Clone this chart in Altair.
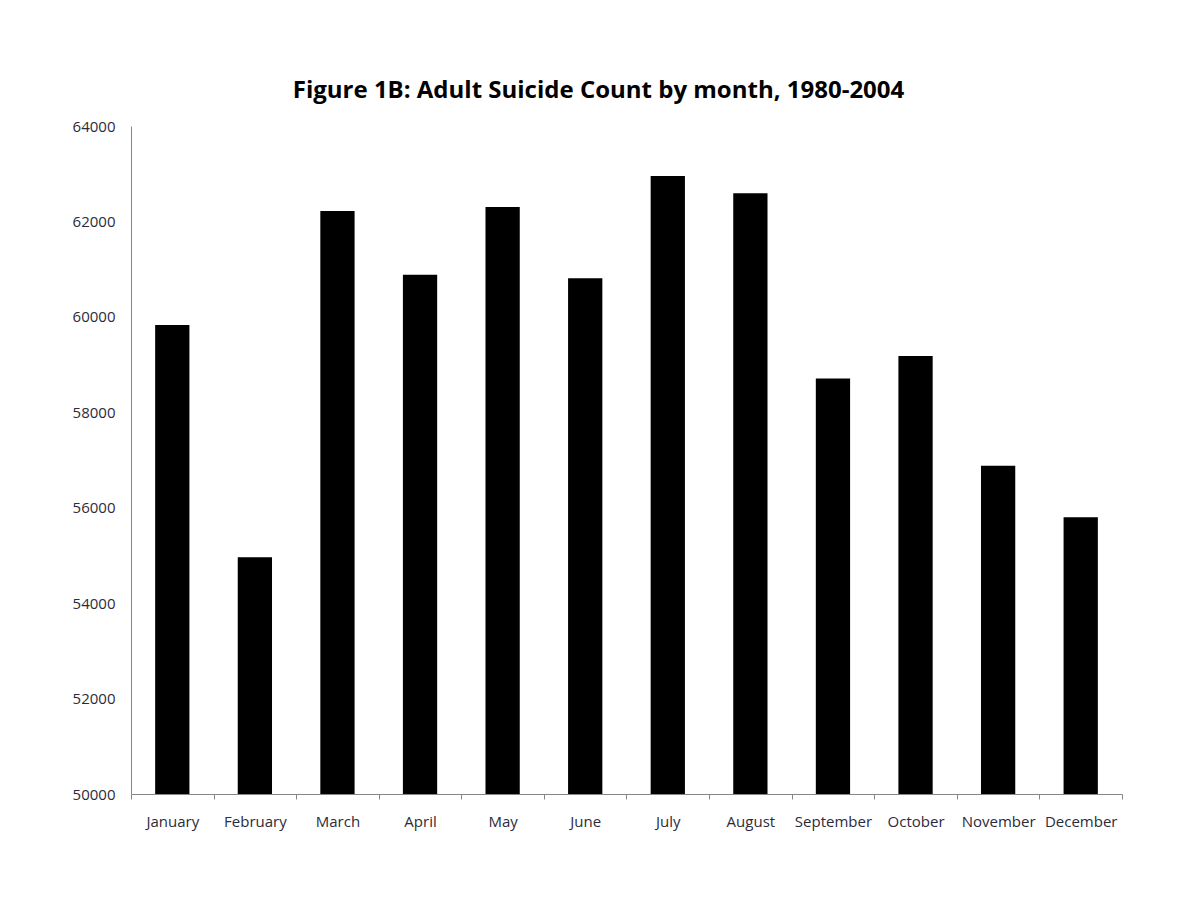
import altair as alt
import pandas as pd

months = ["January", "February", "March", "April", "May", "June", "July",
          "August", "September", "October", "November", "December"]
counts = [59830, 54960, 62220, 60880, 62300, 60810, 62950, 62590,
          58710, 59180, 56880, 55800]
y_ticks = [50000, 52000, 54000, 56000, 58000, 60000, 62000, 64000]
baseline = 50000

df = pd.DataFrame({"month": months, "count": counts})

FONT = "Open Sans"

chart = alt.Chart(df).mark_bar(
    color="#000000", width={"band": 0.415}, clip=True
).encode(
    x=alt.X("month:N", sort=months,
            scale=alt.Scale(paddingInner=0, paddingOuter=0),
            axis=alt.Axis(title=None, labelAngle=0, tickBand="extent",
                          tickSize=5, tickColor="#868686", domainColor="#868686",
                          labelFont=FONT, labelFontSize=15, labelColor="#2b2b3b",
                          labelPadding=15)),
    y=alt.Y("count:Q",
            scale=alt.Scale(domain=[50000, 64000], nice=False, zero=False),
            axis=alt.Axis(title=None, values=y_ticks, format="d", grid=False,
                          ticks=False, domainColor="#868686",
                          labelFont=FONT, labelFontSize=15, labelColor="#2b2b3b",
                          labelPadding=16)),
    y2=alt.datum(baseline),
).properties(
    width=991, height=668,
    background="white",
    title=alt.TitleParams("Figure 1B: Adult Suicide Count by month, 1980-2004",
                          font=FONT, fontSize=24, fontWeight="bold",
                          color="#000000", anchor="middle", dx=-28, offset=16),
    autosize=alt.AutoSizeParams(type="none"),
    padding={"left": 123, "top": 118, "right": 70, "bottom": 100},
).configure_view(strokeWidth=0, stroke=None)

chart.save("out.html", embed_options={"renderer": "svg", "actions": False})
